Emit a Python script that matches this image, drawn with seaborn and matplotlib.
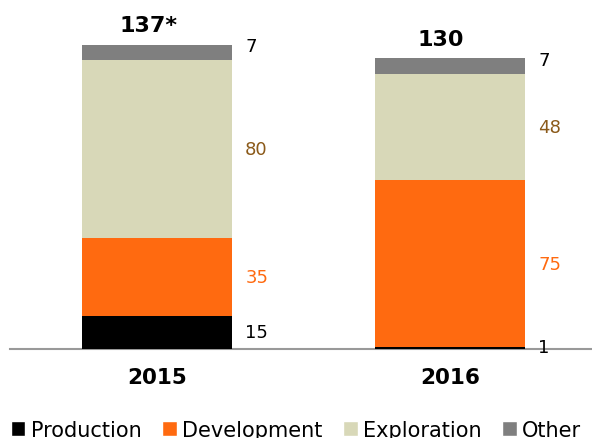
import pandas as pd
import seaborn as sns
import matplotlib.pyplot as plt
from matplotlib.patches import Patch

# data
years = ['2015', '2016']
categories = ['Production', 'Development', 'Exploration', 'Other']
production = [15, 1]
development = [35, 75]
exploration = [80, 48]
other = [7, 7]
totals = ['137*', '130']

colors = {'Production': '#000000',
          'Development': '#FF6A10',
          'Exploration': '#D8D8B8',
          'Other': '#7F7F7F'}
label_colors = {'Production': '#000000',
                'Development': '#FF6A10',
                'Exploration': '#8B5A1A',
                'Other': '#000000'}

df = pd.DataFrame({'year': years, 'Production': production,
                   'Development': development, 'Exploration': exploration,
                   'Other': other})

# cumulative sums for stacking
cum = df[categories].cumsum(axis=1)
for c in categories:
    df['cum_' + c] = cum[c]

sns.set_style('white')
plt.rcParams['font.family'] = ['DejaVu Sans']
plt.rcParams['text.color'] = 'black'
plt.rcParams['xtick.color'] = 'black'

fig = plt.figure(figsize=(5.92, 4.39), dpi=100)
ax = fig.add_axes([10 / 592, 89 / 439, 582 / 592, 333 / 439])

# draw tallest first, then overlay the lower stacks
for i, c in enumerate(reversed(categories)):
    sns.barplot(data=df, x='year', y='cum_' + c, color=colors[c],
                width=0.512, saturation=1, ax=ax, zorder=2 + i,
                linewidth=0)

ax.set_xlim(-0.502, 1.485)
ax.set_ylim(0, 150)

# segment value labels
for xi in range(len(years)):
    bottom = 0
    for c in categories:
        v = df.loc[xi, c]
        mid = bottom + v / 2
        if c == 'Other':
            mid = bottom + v * 0.9
        if c == 'Production' and v < 3:
            mid = 0.8
        ax.text(xi + 0.256 + 0.045, mid, str(v), ha='left', va='center',
                fontsize=13, color=label_colors[c], zorder=10)
        bottom += v
    top = bottom
    ax.text(xi - 0.03, top + 4.3, totals[xi],
            ha='center', va='bottom', fontsize=16, fontweight='bold',
            color='black', clip_on=False)

sns.despine(ax=ax, left=True, top=True, right=True)
ax.spines['bottom'].set_color('#999999')
ax.spines['bottom'].set_linewidth(1.5)
ax.set_yticks([])
ax.set_xlabel('')
ax.set_ylabel('')
ax.tick_params(axis='x', length=0, pad=13)
for t in ax.get_xticklabels():
    t.set_fontweight('bold')
    t.set_fontsize(15.5)
    t.set_color('black')

handles = [Patch(facecolor=colors[c], label=c) for c in categories]
fig.legend(handles=handles, loc='center', bbox_to_anchor=(0.5, 1 - 431 / 439),
           ncol=4, frameon=False, fontsize=15, handlelength=0.7,
           handleheight=0.7, handletextpad=0.25, columnspacing=1.0,
           borderpad=0)

fig.savefig('out.png', dpi=100)
